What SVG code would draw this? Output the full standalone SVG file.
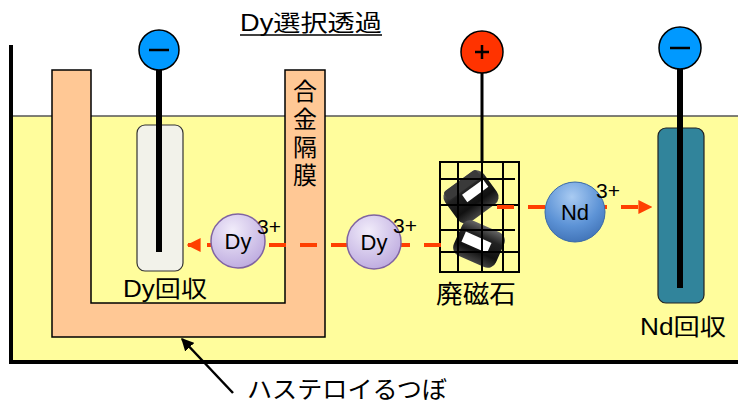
<svg xmlns="http://www.w3.org/2000/svg" width="738" height="403" viewBox="0 0 738 403">
  <style>
    .jp { font-family: "Liberation Sans", "Noto Sans CJK JP", sans-serif; fill: #000; }
    .ion { font-family: "Liberation Sans", "Noto Sans CJK JP", sans-serif; font-size: 22px; text-anchor: middle; fill: #000; }
    .chg { font-family: "Liberation Sans", sans-serif; font-size: 21px; fill: #000; }
    .flow { stroke: #FF3F00; stroke-width: 4; stroke-dasharray: 17 14; fill: none; }
    .grid line { stroke: #000; stroke-width: 2; }
  </style>
  <defs>
    <radialGradient id="dyFill" cx="0.4" cy="0.3" r="0.8">
      <stop offset="0" stop-color="#F1ECFA"/>
      <stop offset="1" stop-color="#B9A5DD"/>
    </radialGradient>
    <radialGradient id="ndFill" cx="0.45" cy="0.25" r="0.8">
      <stop offset="0" stop-color="#A9CBF2"/>
      <stop offset="0.6" stop-color="#5D93D6"/>
      <stop offset="1" stop-color="#3E70B4"/>
    </radialGradient>
    <linearGradient id="magFill" x1="0" y1="0" x2="0" y2="1">
      <stop offset="0" stop-color="#666"/>
      <stop offset="0.3" stop-color="#222"/>
      <stop offset="0.7" stop-color="#111"/>
      <stop offset="1" stop-color="#444"/>
    </linearGradient>
    <marker id="head" viewBox="0 0 10 10" refX="9" refY="5" markerWidth="3.5" markerHeight="3.5" orient="auto">
      <path d="M0,0 L10,5 L0,10 Z" fill="#FF3F00"/>
    </marker>
    <marker id="blackHead" viewBox="0 0 10 10" refX="9" refY="5" markerWidth="5" markerHeight="5" orient="auto">
      <path d="M0,0 L10,5 L0,10 Z" fill="#000"/>
    </marker>
  </defs>

  <!-- electrolyte bath -->
  <g id="bath">
    <rect x="11" y="116" width="727" height="246" fill="#FFFD9C"/>
    <line x1="11" y1="116" x2="738" y2="116" stroke="#555" stroke-width="1.5"/>
    <path d="M11,45 V362 H738" fill="none" stroke="#000" stroke-width="4"/>
  </g>

  <!-- Hastelloy crucible with alloy membrane -->
  <g id="crucible">
    <path d="M52,70 H91 V303 H285 V70 H325 V337 H52 Z" fill="#FFC895" stroke="#000" stroke-width="1.5"/>
    <g class="jp" font-size="24" text-anchor="middle">
      <text x="305" y="100">合</text>
      <text x="305" y="128">金</text>
      <text x="305" y="156">隔</text>
      <text x="305" y="184">膜</text>
    </g>
  </g>

  <!-- Dy cathode -->
  <g id="dy-cathode">
    <rect x="137" y="125" width="46" height="146" rx="8" fill="#F2F2EA" stroke="#333" stroke-width="1.2"/>
    <line x1="159" y1="68" x2="159" y2="252" stroke="#000" stroke-width="6"/>
    <circle cx="159" cy="50" r="20" fill="#0099FF" stroke="#000" stroke-width="1.5"/>
    <line x1="149" y1="50" x2="169" y2="50" stroke="#000" stroke-width="2.5"/>
    <text class="jp" x="123" y="297" font-size="23" textLength="84" lengthAdjust="spacingAndGlyphs">Dy回収</text>
  </g>

  <!-- scrap magnet anode -->
  <g id="anode">
    <line x1="482" y1="72" x2="482" y2="162" stroke="#000" stroke-width="3"/>
    <circle cx="482" cy="52" r="21" fill="#FF3300" stroke="#000" stroke-width="1.5"/>
    <path d="M475,52 H489 M482,45 V59" stroke="#000" stroke-width="2.5"/>
    <!-- magnet pieces -->
    <g transform="translate(471,197) rotate(-36)">
      <rect x="-24" y="-20" width="48" height="40" rx="9" fill="url(#magFill)"/>
      <rect x="-20" y="-20" width="40" height="10" rx="3" fill="#3a3a3a"/>
      <rect x="-6" y="-7" width="26" height="9" fill="#fff"/>
    </g>
    <g transform="translate(479,244) rotate(24)">
      <rect x="-23" y="-19" width="46" height="38" rx="9" fill="url(#magFill)"/>
      <rect x="-17" y="-6" width="28" height="11" fill="#fff"/>
    </g>
    <g class="grid">
      <rect x="440" y="162" width="79" height="110" fill="none" stroke="#000" stroke-width="2"/>
      <line x1="458" y1="162" x2="458" y2="272"/>
      <line x1="482" y1="162" x2="482" y2="272"/>
      <line x1="503" y1="162" x2="503" y2="272"/>
      <line x1="440" y1="179" x2="515" y2="179"/>
      <line x1="440" y1="205" x2="519" y2="205"/>
      <line x1="440" y1="230" x2="515" y2="230"/>
      <line x1="440" y1="252" x2="519" y2="252"/>
    </g>
    <text class="jp" x="436" y="303" font-size="25" textLength="80" lengthAdjust="spacingAndGlyphs">廃磁石</text>
  </g>

  <!-- Nd cathode -->
  <g id="nd-cathode">
    <rect x="658" y="128" width="46" height="175" rx="8" fill="#31849B" stroke="#222" stroke-width="1.2"/>
    <line x1="680" y1="66" x2="680" y2="288" stroke="#000" stroke-width="6"/>
    <circle cx="680" cy="48" r="21" fill="#0099FF" stroke="#000" stroke-width="1.5"/>
    <line x1="670" y1="48" x2="690" y2="48" stroke="#000" stroke-width="2.5"/>
    <text class="jp" x="640" y="335" font-size="23" textLength="86" lengthAdjust="spacingAndGlyphs">Nd回収</text>
  </g>

  <!-- ion migration paths -->
  <g id="connectors">
    <line class="flow" x1="441" y1="245" x2="188" y2="245" marker-end="url(#head)"/>
    <line class="flow" x1="497" y1="207" x2="651" y2="207" marker-end="url(#head)"/>
    <line x1="233" y1="393" x2="182" y2="339" stroke="#000" stroke-width="2.5" marker-end="url(#blackHead)"/>
  </g>

  <!-- ions -->
  <g id="ion-dy-1">
    <circle cx="238" cy="241" r="27" fill="url(#dyFill)" stroke="#8064A2" stroke-width="1.5"/>
    <text class="ion" x="238" y="249">Dy</text>
    <text class="chg" x="257" y="234">3+</text>
  </g>
  <g id="ion-dy-2">
    <circle cx="374" cy="242" r="27" fill="url(#dyFill)" stroke="#8064A2" stroke-width="1.5"/>
    <text class="ion" x="374" y="250">Dy</text>
    <text class="chg" x="393" y="233">3+</text>
  </g>
  <g id="ion-nd">
    <circle cx="575" cy="212" r="30" fill="url(#ndFill)" stroke="#3A6AA8" stroke-width="1"/>
    <text class="ion" x="575" y="220">Nd</text>
    <text class="chg" x="596" y="198">3+</text>
  </g>

  <!-- captions -->
  <g id="title">
    <text class="jp" x="240" y="31" font-size="23" textLength="142" lengthAdjust="spacingAndGlyphs">Dy選択透過</text>
    <line x1="240" y1="35" x2="382" y2="35" stroke="#000" stroke-width="1.5"/>
  </g>
  <g id="crucible-label">
    <text class="jp" x="247" y="398" font-size="24" textLength="200" lengthAdjust="spacingAndGlyphs">ハステロイるつぼ</text>
  </g>
</svg>
